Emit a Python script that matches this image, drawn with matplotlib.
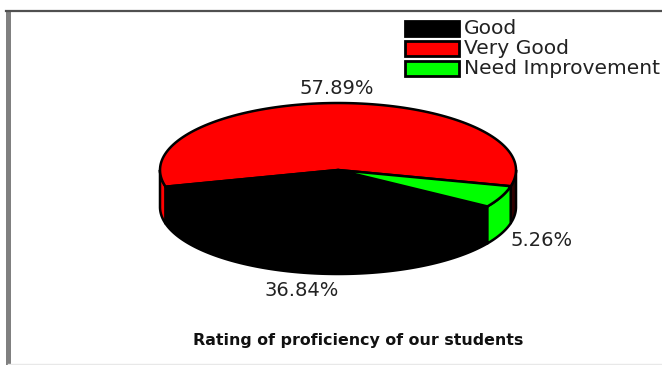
import numpy as np
import matplotlib
matplotlib.use('Agg')
import matplotlib.pyplot as plt
from matplotlib.patches import Polygon, Rectangle

# data
labels = ['Good', 'Very Good', 'Need Improvement']
values = [36.84, 57.89, 5.26]
colors = ['#000000', '#ff0000', '#00ff00']
title = 'Rating of proficiency of our students'

# pie geometry in pixels
cx, cy = 338, 170
rx, ry = 178, 67
depth = 37
start = -14.0   # where the red slice begins


def rim(t0, t1, dy=0):
    t = np.radians(np.linspace(t0, t1, 120))
    return np.column_stack([cx + rx * np.cos(t), cy + dy - ry * np.sin(t)])


fig = plt.figure(figsize=(6.62, 3.65), dpi=100)
ax = fig.add_axes([0, 0, 1, 1])
ax.set_xlim(0, 662)
ax.set_ylim(365, 0)
ax.axis('off')

# frame
ax.plot([7.5, 7.5], [10, 365], color='#808080', lw=3.6, solid_capstyle='butt')
ax.plot([6, 662], [10.5, 10.5], color='#505050', lw=1.6)
ax.plot([8, 662], [363.5, 363.5], color='#e8e8e8', lw=1)

# angles of each slice, counter clockwise from the red one
sweep = {n: v / sum(values) * 360 for n, v in zip(labels, values)}
red0, red1 = start, start + sweep['Very Good']
blk0, blk1 = red1, red1 + sweep['Good']
grn0, grn1 = blk1, blk1 + sweep['Need Improvement']

# side walls, back to front (the right red sliver reads almost black)
walls = [(180, red1, colors[1]), (grn1, 360, '#300000'),
         (blk0, blk1, colors[0]), (grn0, grn1, colors[2])]
for t0, t1, c in walls:
    top = rim(t0, t1)
    bot = rim(t0, t1, depth)[::-1]
    ax.add_patch(Polygon(np.vstack([top, bot]), fc=c, ec='black', lw=1.8, joinstyle='round'))

# top faces
for t0, t1, c in [(red0, red1, colors[1]), (blk0, blk1, colors[0]), (grn0, grn1, colors[2])]:
    pts = np.vstack([[cx, cy], rim(t0, t1)])
    ax.add_patch(Polygon(pts, fc=c, ec='black', lw=1.8, joinstyle='round'))

# percent labels
font = 'DejaVu Sans'
ax.text(337, 88, f'{values[1]:.2f}%', ha='center', va='center', fontsize=14, family=font, color='#222222')
ax.text(542, 241, f'{values[2]:.2f}%', ha='center', va='center', fontsize=14, family=font, color='#222222')
ax.text(302, 290, f'{values[0]:.2f}%', ha='center', va='center', fontsize=14, family=font, color='#222222')

# legend
for i, (name, c) in enumerate(zip(labels, colors)):
    y = 20 + i * 20
    ax.add_patch(Rectangle((405, y + 1), 54, 15, fc=c, ec='black', lw=2))
    ax.text(464, y + 8.5, name, ha='left', va='center', fontsize=14.6, family=font, color='#222222')

ax.text(358, 341, title, ha='center', va='center', fontsize=11.4, family=font, weight='bold', color='#111111')

fig.savefig('out.png', dpi=100)
